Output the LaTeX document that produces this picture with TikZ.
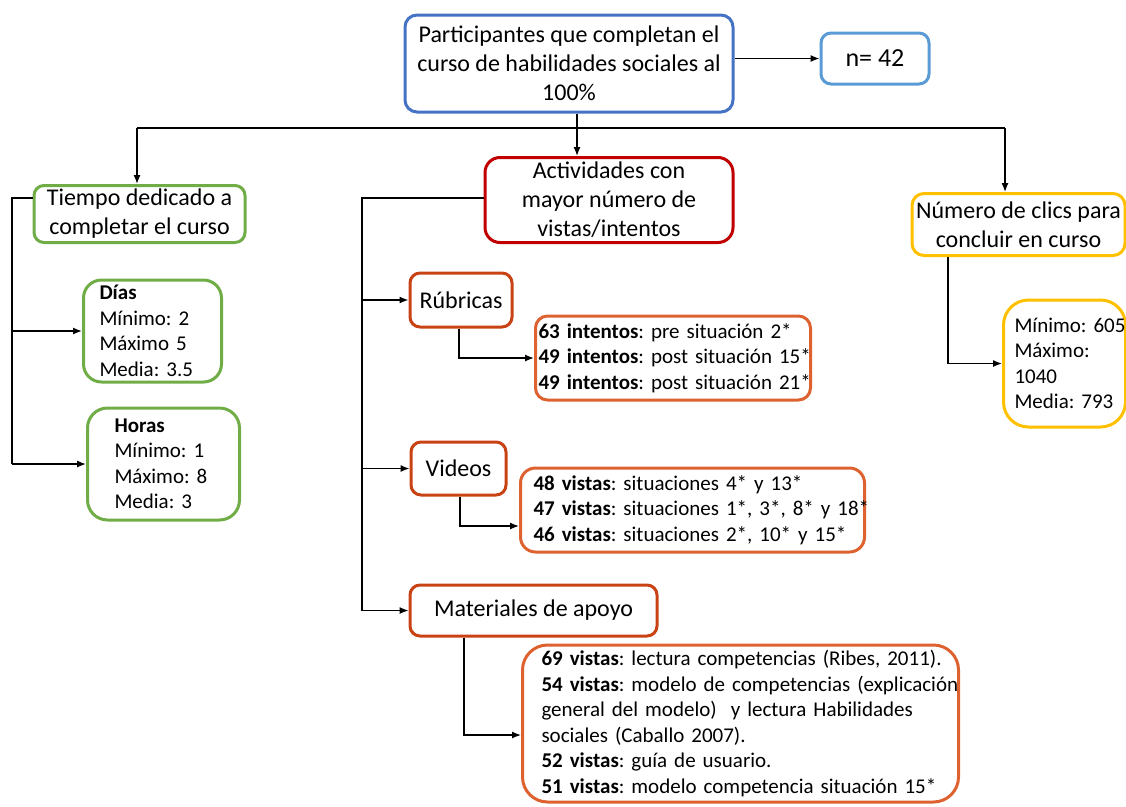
\documentclass[tikz,border=0pt]{standalone}
\usepackage{fontspec}
\setmainfont{Carlito}
\frenchspacing
\usetikzlibrary{arrows.meta}

\definecolor{cblue}{HTML}{4472C4}
\definecolor{clightblue}{HTML}{5B9BD5}
\definecolor{cgreen}{HTML}{70AD47}
\definecolor{cred}{HTML}{C00000}
\definecolor{cyellow}{HTML}{FFC000}
\definecolor{corange}{RGB}{200,66,20}
\definecolor{clight}{RGB}{222,98,48}

\newcommand\headfont{\fontsize{24}{29}\selectfont}
\newcommand\bodyfont{\fontsize{21}{25.5}\selectfont}

\tikzset{
  rbox/.style={draw, line width=3pt, fill=white, inner sep=0pt, align=center, font=\headfont},
  listbox/.style={draw, line width=3pt, fill=white, inner ysep=0pt, align=left, font=\bodyfont, anchor=west},
  link/.style={line width=1.3pt},
  arr/.style={line width=1.3pt, -{Latex[length=9pt,width=7pt]}}
}

\begin{document}
\begin{tikzpicture}[x=1pt,y=-1pt]
\useasboundingbox (0,0) rectangle (1126,806);

% top level
\node[rbox, draw=cblue, rounded corners=12pt, minimum width=328pt, minimum height=97pt] (top) at (569,63.5)
  {Participantes que completan el\\curso de habilidades sociales al\\100\%};
\node[rbox, draw=clightblue, rounded corners=10pt, minimum width=108pt, minimum height=51pt,
      font=\fontsize{26}{30}\selectfont] (n42) at (875,58.5) {n= 42};

% second level
\node[rbox, draw=cgreen, rounded corners=10pt, minimum width=211pt, minimum height=57pt] (tiempo) at (139.5,214)
  {Tiempo dedicado a\\completar el curso};
\node[rbox, draw=cred, rounded corners=15pt, minimum width=248pt, minimum height=85pt] (act) at (609,200)
  {Actividades con\\mayor número de\\vistas/intentos};
\node[rbox, draw=cyellow, rounded corners=12pt, minimum width=213pt, minimum height=62pt] (num) at (1018.5,224.5)
  {Número de clics para\\concluir en curso};

% time details
\node[listbox, draw=cgreen, rounded corners=18pt, inner xsep=16pt, text width=106pt, minimum height=102pt] (dias) at (82,331)
  {\textbf{Días}\\Mínimo: 2\\Máximo 5\\Media: 3.5};
\node[listbox, draw=cgreen, rounded corners=20pt, inner xsep=27pt, text width=98pt, minimum height=112pt] (horas) at (86,464)
  {\textbf{Horas}\\Mínimo: 1\\Máximo: 8\\Media: 3};

% clicks details
\node[listbox, draw=cyellow, rounded corners=25pt, inner xsep=11pt, text width=100pt, minimum height=127pt] (clics) at (1002,363.5)
  {\mbox{Mínimo: 605}\\Máximo:\\1040\\\mbox{Media: 793}};

% activity categories
\node[rbox, draw=corange, rounded corners=10pt, minimum width=102pt, minimum height=54pt] (rub) at (461,300) {Rúbricas};
\node[rbox, draw=corange, rounded corners=10pt, minimum width=95pt, minimum height=53pt] (vid) at (458.5,468.5) {Videos};
\node[rbox, draw=corange, rounded corners=10pt, minimum width=247pt, minimum height=51pt] (mat) at (533.5,610.5) {Materiales de apoyo};

% activity details
\node[listbox, draw=clight, rounded corners=12pt, inner xsep=3pt, text width=269pt, minimum height=84pt] (rubd) at (534,358)
  {\mbox{\textbf{63 intentos}: pre situación 2*}\\
   \mbox{\textbf{49 intentos}: post situación 15*}\\
   \mbox{\textbf{49 intentos}: post situación 21*}};
\node[listbox, draw=clight, rounded corners=15pt, inner xsep=13pt, text width=318pt, minimum height=84pt] (vidd) at (519,510)
  {\mbox{\textbf{48 vistas}: situaciones 4* y 13*}\\
   \mbox{\textbf{47 vistas}: situaciones 1*, 3*, 8* y 18*}\\
   \mbox{\textbf{46 vistas}: situaciones 2*, 10* y 15*}};
\node[listbox, draw=clight, rounded corners=25pt, inner xsep=19pt, text width=398pt, minimum height=157pt] (matd) at (521,723.5)
  {\mbox{\textbf{69 vistas}: lectura competencias (Ribes, 2011).}\\
   \mbox{\textbf{54 vistas}: modelo de competencias (explicación}\\
   \mbox{general del modelo)~ y lectura Habilidades}\\
   \mbox{sociales (Caballo 2007).}\\
   \mbox{\textbf{52 vistas}: guía de usuario.}\\
   \mbox{\textbf{51 vistas}: modelo competencia situación 15*}};

% junction points
\coordinate (hub) at (577,128);
\coordinate (hl) at (137,128);
\coordinate (hr) at (1005,128);
\coordinate (tl) at (12,198);
\coordinate (ml) at (362,198);
\coordinate (rs) at (459,0);
\coordinate (vs) at (460,526);
\coordinate (ms) at (464,735);
\coordinate (cs) at (948,0);

% connectors
\draw[arr] (top.east |- n42) -- (n42.west);
\draw[link] (top.south -| hub) -- (hub);
\draw[link] (hl) -- (hr);
\draw[arr] (hl) -- (hl |- tiempo.north);
\draw[arr] (hub) -- (hub |- act.north);
\draw[arr] (hr) -- (hr |- num.north);

\draw[link] (tiempo.west |- tl) -- (tl) -- (tl |- horas.west);
\draw[arr] (tl |- dias.west) -- (dias.west);
\draw[arr] (tl |- horas.west) -- (horas.west);

\draw[link] (act.west |- ml) -- (ml) -- (ml |- mat.west);
\draw[arr] (ml |- rub.west) -- (rub.west);
\draw[arr] (ml |- vid.west) -- (vid.west);
\draw[arr] (ml |- mat.west) -- (mat.west);

\draw[arr] (rub.south -| rs) |- (rubd.west);
\draw[arr] (vid.south -| vs) |- (vidd.west |- vs);
\draw[arr] (mat.south -| ms) |- (matd.west |- ms);
\draw[arr] (num.south -| cs) |- (clics.west);
\end{tikzpicture}
\end{document}
